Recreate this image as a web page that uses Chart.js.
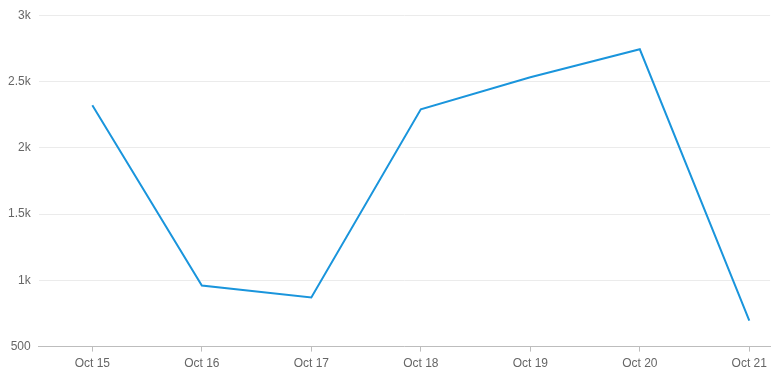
<!DOCTYPE html>
<html>
<head>
<meta charset="utf-8">
<script src="https://cdn.jsdelivr.net/npm/chart.js@4/dist/chart.umd.min.js"></script>
<style>
    html, body { margin: 0; padding: 0; background: #ffffff; }
    #wrap { width: 772px; height: 388px; }
</style>
</head>
<body>
<div id="wrap"><canvas id="dailyChart"></canvas></div>
<script>
const dayLabels = ["Oct 15", "Oct 16", "Oct 17", "Oct 18", "Oct 19", "Oct 20", "Oct 21"];
const dayValues = [2320, 961, 870, 2290, 2532, 2743, 696];
const yTickValues = [500, 1000, 1500, 2000, 2500, 3000];

const chartColours = {
    line: "#1a95dc",
    grid: "#ebebeb",
    axis: "#bdbdbd",
    text: "#666666"
};

function formatK(value) {
    return value >= 1000 ? (value / 1000) + "k" : String(value);
}

Chart.defaults.font.family = "'Liberation Sans', Arial, sans-serif";
Chart.defaults.font.size = 12;
Chart.defaults.color = chartColours.text;

new Chart(document.getElementById("dailyChart"), {
    type: "line",
    data: {
        datasets: [{
            label: "Daily",
            data: dayValues.map((value, index) => ({ x: index, y: value })),
            borderColor: chartColours.line,
            borderWidth: 2,
            pointRadius: 0,
            tension: 0,
            fill: false
        }]
    },
    options: {
        responsive: true,
        maintainAspectRatio: false,
        animation: false,
        layout: { padding: { top: 11, left: 0, right: 1, bottom: 12 } },
        plugins: {
            legend: { display: false },
            tooltip: { enabled: false }
        },
        scales: {
            x: {
                type: "linear",
                min: -0.49,
                max: 6.19,
                afterBuildTicks: (axis) => {
                    axis.ticks = dayLabels.map((_, index) => ({ value: index }));
                },
                ticks: {
                    callback: (value) => dayLabels[value],
                    padding: 5,
                    maxRotation: 0,
                    autoSkip: false
                },
                grid: {
                    drawOnChartArea: false,
                    drawTicks: true,
                    tickLength: 5,
                    color: chartColours.axis
                },
                border: { color: chartColours.axis }
            },
            y: {
                min: 500,
                max: 3000,
                afterBuildTicks: (axis) => {
                    axis.ticks = yTickValues.map((value) => ({ value }));
                },
                ticks: {
                    callback: (value) => formatK(value),
                    padding: 8
                },
                grid: {
                    color: chartColours.grid,
                    drawTicks: false
                },
                border: { display: false }
            }
        }
    }
});
</script>
</body>
</html>
